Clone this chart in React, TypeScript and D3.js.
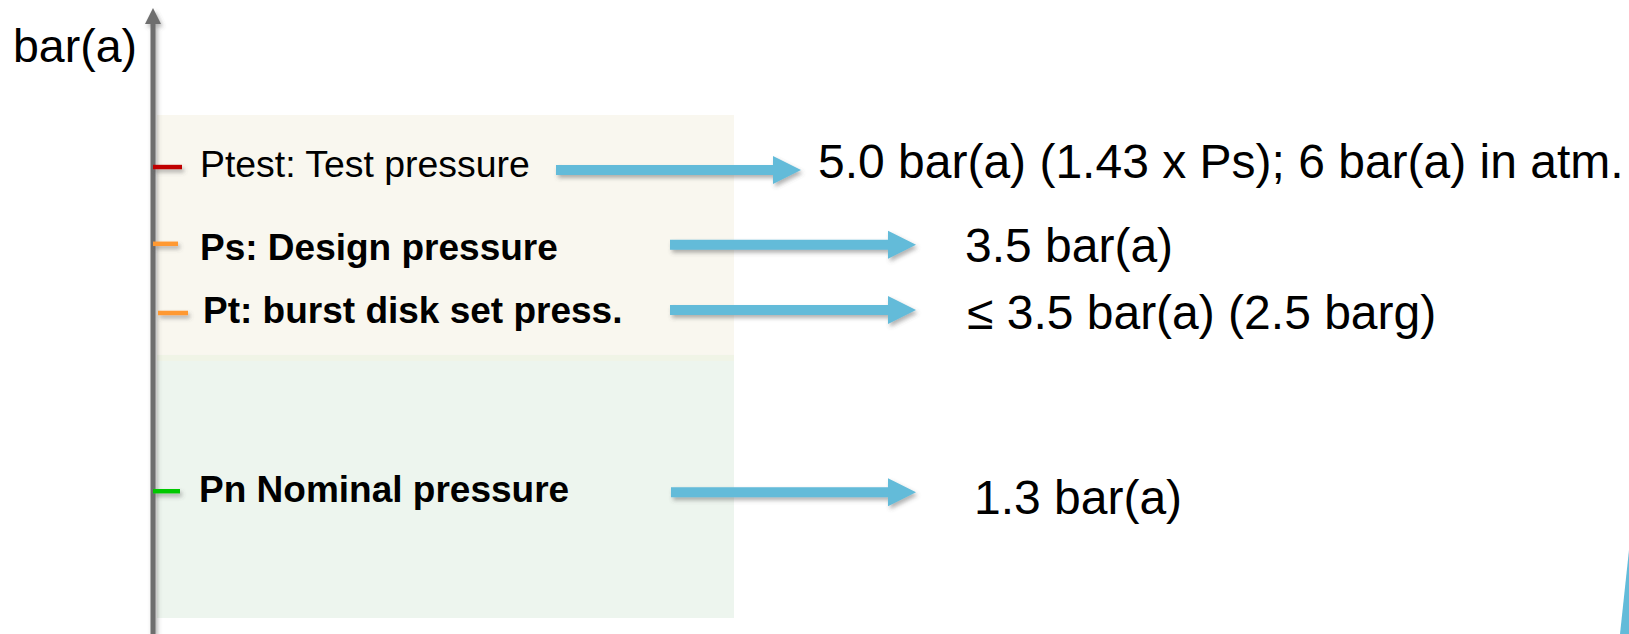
import React from "react";
import * as d3 from "d3";

// ---- data ----
const axisTitle = "bar(a)";
const levelNames = [
  "Ptest: Test pressure",
  "Ps: Design pressure",
  "Pt: burst disk set press.",
  "Pn Nominal pressure",
];
const levelValues = [
  "5.0 bar(a) (1.43 x Ps); 6 bar(a) in atm.",
  "3.5 bar(a)",
  "≤ 3.5 bar(a) (2.5 barg)",
  "1.3 bar(a)",
];
// schematic position of each level on the (non-linear) pressure axis
const levelPos = [8.93, 7.41, 6.04, 2.51];
const levelBold = [false, true, true, true];
const levelColors = ["#c00000", "#ff9933", "#ff9933", "#00c800"];
// background zones in schematic axis units [from, to]
const zoneFrom = [5.21, 0];
const zoneTo = [9.96, 5.09];
const zoneColors = ["#f9f7ef", "#edf5ee"];

const W = 1629;
const H = 634;
const AXIS_X = 153;
const BLUE = "#63bbd9";

// layout (style) tables
const tickShift = [0, 0, 5, 0];
const tickLen = [29, 25, 30, 27];
const labelX = [200, 200, 203, 199];
const labelSize = [37.4, 37, 37, 37];
const arrowX0 = [556, 670, 670, 671];
const arrowX1 = [801, 916, 916, 916];
const arrowDy = [3, 1, -3, 1];
const valueX = [818, 965, 967, 974];
const valueDy = [11, 18, 16, 23];
const labelDy = [10, 16, 10, 11];

export default function App() {
  const y = d3.scaleLinear().domain([0, 10]).range([618, 113]);
  const zoneX0 = AXIS_X + 4;
  const zoneX1 = 734;

  const arrowPath = (x0: number, x1: number, yc: number) => {
    const p = d3.path();
    const hw = 5;
    const headLen = 28;
    const headHalf = 14;
    p.moveTo(x0, yc - hw);
    p.lineTo(x1 - headLen, yc - hw);
    p.lineTo(x1 - headLen, yc - headHalf);
    p.lineTo(x1, yc);
    p.lineTo(x1 - headLen, yc + headHalf);
    p.lineTo(x1 - headLen, yc + hw);
    p.lineTo(x0, yc + hw);
    p.closePath();
    return p.toString();
  };

  const font = "'Liberation Sans', Arial, Helvetica, sans-serif";

  return (
    <svg
      width={W}
      height={H}
      style={{ position: "absolute", left: 0, top: 0, display: "block", background: "#ffffff" }}
      fontFamily={font}
    >
      <defs>
        <filter id="shadow" filterUnits="userSpaceOnUse" x="0" y="0" width={W} height={H}>
          <feDropShadow dx="2" dy="3" stdDeviation="2" floodColor="#555" floodOpacity="0.45" />
        </filter>
      </defs>

      {/* background zones */}
      {zoneFrom.map((f, i) => (
        <rect
          key={"z" + i}
          x={zoneX0}
          width={zoneX1 - zoneX0}
          y={y(zoneTo[i])}
          height={y(f) - y(zoneTo[i])}
          fill={zoneColors[i]}
        />
      ))}
      <rect
        x={zoneX0}
        width={zoneX1 - zoneX0}
        y={y(zoneFrom[0])}
        height={y(zoneTo[1]) - y(zoneFrom[0])}
        fill="#f0f4e6"
      />

      {/* axis */}
      <g filter="url(#shadow)">
        <rect x={AXIS_X - 2.5} y={22} width={5} height={H - 22} fill="#6e6e6e" />
        <path d={`M${AXIS_X - 8},24 L${AXIS_X},8 L${AXIS_X + 8},24 Z`} fill="#6e6e6e" />
      </g>
      <text x={13} y={62} fontSize={46.5} fill="#000">
        {axisTitle}
      </text>

      {/* levels */}
      {levelNames.map((name, i) => {
        const yc = y(levelPos[i]);
        const x0 = AXIS_X + tickShift[i];
        return (
          <g key={"l" + i}>
            <rect
              x={x0}
              width={tickLen[i]}
              y={yc - 2.25}
              height={4.5}
              fill={levelColors[i]}
              filter="url(#shadow)"
            />
            <text
              x={labelX[i]}
              y={yc + labelDy[i]}
              fontSize={labelSize[i]}
              fontWeight={levelBold[i] ? "bold" : "normal"}
              fill="#000"
            >
              {name}
            </text>
            <path
              d={arrowPath(arrowX0[i], arrowX1[i], yc + arrowDy[i])}
              fill={BLUE}
              filter="url(#shadow)"
            />
            <text x={valueX[i]} y={yc + valueDy[i]} fontSize={48} fill="#000">
              {levelValues[i]}
            </text>
          </g>
        );
      })}

      {/* corner sliver */}
      <path d={`M${W},550 L${W - 9},${H} L${W},${H} Z`} fill={BLUE} />
    </svg>
  );
}
